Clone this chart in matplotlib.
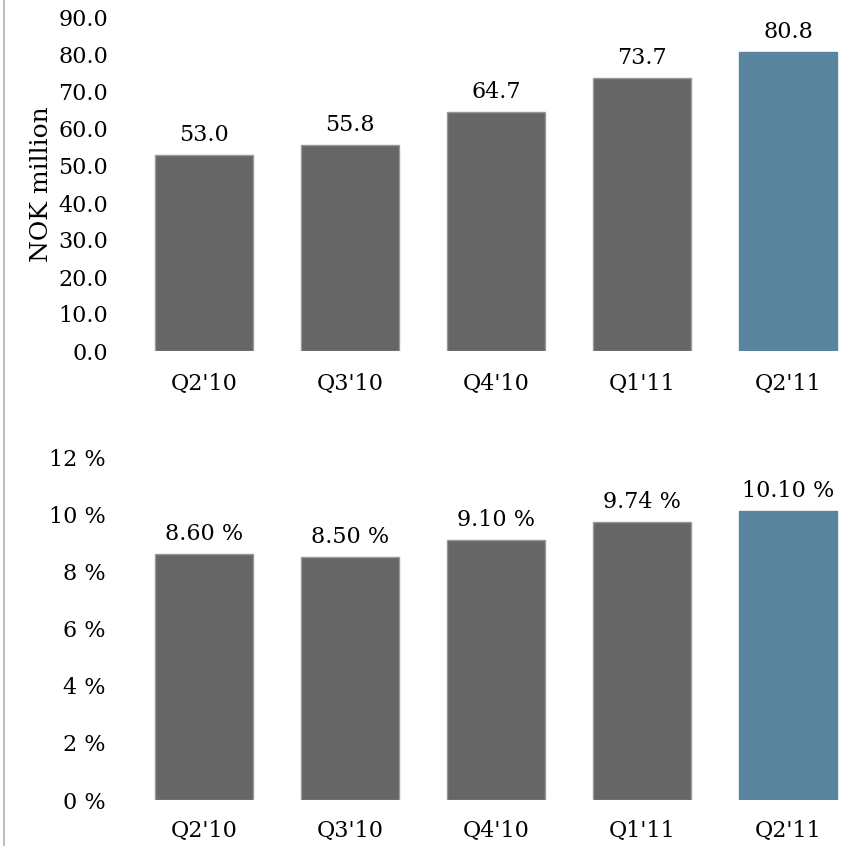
import matplotlib
matplotlib.use("Agg")
import matplotlib.pyplot as plt
from matplotlib.lines import Line2D

quarters = ["Q2'10", "Q3'10", "Q4'10", "Q1'11", "Q2'11"]
revenue = [53.0, 55.8, 64.7, 73.7, 80.8]
margin = [8.60, 8.50, 9.10, 9.74, 10.10]

GREY = "#666666"
BLUE = "#5a859f"
plt.rcParams['font.family'] = ['DejaVu Serif']
plt.rcParams['font.size'] = 16

fig = plt.figure(figsize=(8.48, 8.46), dpi=100)
W, H = 848, 846


def make_axes(y_top, y_bottom):
    left = 131
    return fig.add_axes([left / W, 1 - y_bottom / H, (W - left) / W, (y_bottom - y_top) / H])


def style(ax, ypad, xpad):
    for s in ax.spines.values():
        s.set_visible(False)
    ax.tick_params(axis='both', length=0)
    ax.tick_params(axis='y', pad=ypad)
    ax.tick_params(axis='x', pad=xpad)
    ax.set_xlim(-0.5, (848 - 204) / 146)


def draw_bars(ax, values, fmt):
    colors = [GREY] * (len(values) - 1) + [BLUE]
    edges = ["#999999"] * (len(values) - 1) + [BLUE]
    x = range(len(values))
    bars = ax.bar(x, values, width=0.665, color=colors, edgecolor=edges, linewidth=1)
    for b, v in zip(bars, values):
        ax.annotate(fmt(v), (b.get_x() + b.get_width() / 2, v), xytext=(0, 6.5),
                    textcoords='offset points', ha='center', va='bottom',
                    annotation_clip=False)
    ax.set_xticks(list(x))
    ax.set_xticklabels(quarters)


# top chart
ax1 = make_axes(18, 351)
style(ax1, 16.5, 16)
draw_bars(ax1, revenue, lambda v: f"{v:.1f}")
ax1.set_ylim(0, 90)
ax1.set_yticks([i * 10 for i in range(10)])
ax1.set_yticklabels([f"{i * 10:.1f}" for i in range(10)])
ax1.set_ylabel("NOK million", fontsize=18, labelpad=4)

# bottom chart
ax2 = make_axes(457, 800)
style(ax2, 18.5, 14.5)
draw_bars(ax2, margin, lambda v: f"{v:.2f} %")
ax2.set_ylim(0, 12)
ax2.set_yticks(list(range(0, 13, 2)))
ax2.set_yticklabels([f"{i} %" for i in range(0, 13, 2)])

fig.add_artist(Line2D([3.5 / W, 3.5 / W], [0, 1], color="#a9b4be", linewidth=1.2))

fig.savefig("out.png", dpi=100)
